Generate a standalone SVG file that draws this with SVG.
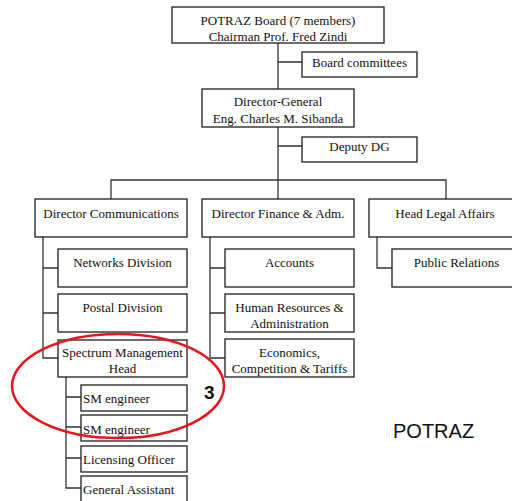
<svg xmlns="http://www.w3.org/2000/svg" width="512" height="501" viewBox="0 0 512 501">
<style>
.box{fill:#fff;stroke:#1e1e1e;stroke-width:1.3}
.t{font-family:"Liberation Serif","Times New Roman",serif;font-size:13px;fill:#111;text-anchor:middle}
.tl{text-anchor:start}
.conn{stroke:#333;stroke-width:1.3;fill:none}
</style>
<rect x="0" y="0" width="512" height="501" fill="#fff"/>
<g id="connectors">
<path class="conn" d="M278 43V89M278 62H302M278 127V199M278 146H302M111 199V180H446V199"/>
<path class="conn" d="M43 237V358H58M43 268H58M43 313H58"/>
<path class="conn" d="M210 237V358H225M210 268H225M210 313H225"/>
<path class="conn" d="M377 237V268H392"/>
<path class="conn" d="M66 377V488H81M66 397H81M66 427H81M66 458H81"/>
</g>
<g id="board"><rect class="box" x="172" y="7" width="212" height="36"/><text class="t" x="278" y="25">POTRAZ Board (7 members)</text><text class="t" x="278" y="41">Chairman Prof. Fred Zindi</text></g>
<g id="board-committees"><rect class="box" x="302" y="52" width="115" height="25"/><text class="t" x="359.5" y="67">Board committees</text></g>
<g id="director-general"><rect class="box" x="202" y="89" width="152" height="38"/><text class="t" x="278" y="106">Director-General</text><text class="t" x="278" y="123">Eng. Charles M. Sibanda</text></g>
<g id="deputy-dg"><rect class="box" x="302" y="137" width="115" height="25"/><text class="t" x="359.5" y="151">Deputy DG</text></g>
<g id="dir-comm"><rect class="box" x="35" y="199" width="152" height="38"/><text class="t" x="111" y="218">Director Communications</text></g>
<g id="dir-fin"><rect class="box" x="202" y="199" width="152" height="38"/><text class="t" x="278" y="218">Director Finance &amp; Adm.</text></g>
<g id="head-legal"><rect class="box" x="369" y="199" width="152" height="38"/><text class="t" x="445" y="218">Head Legal Affairs</text></g>
<g id="networks"><rect class="box" x="58" y="249" width="129" height="38"/><text class="t" x="122.5" y="267">Networks Division</text></g>
<g id="postal"><rect class="box" x="58" y="294" width="129" height="38"/><text class="t" x="122.5" y="312">Postal Division</text></g>
<g id="spectrum"><rect class="box" x="58" y="340" width="129" height="37"/><text class="t" x="122.5" y="357">Spectrum Management</text><text class="t" x="122.5" y="373">Head</text></g>
<g id="accounts"><rect class="box" x="225" y="249" width="129" height="38"/><text class="t" x="289.5" y="267">Accounts</text></g>
<g id="hr"><rect class="box" x="225" y="294" width="129" height="38"/><text class="t" x="289.5" y="312">Human Resources &amp;</text><text class="t" x="289.5" y="328">Administration</text></g>
<g id="economics"><rect class="box" x="225" y="339" width="129" height="38"/><text class="t" x="289.5" y="357">Economics,</text><text class="t" x="289.5" y="373">Competition &amp; Tariffs</text></g>
<g id="public-relations"><rect class="box" x="392" y="249" width="129" height="38"/><text class="t" x="456.5" y="267">Public Relations</text></g>
<g id="sm-engineer-1"><rect class="box" x="81" y="385" width="106" height="26"/><text class="t tl" x="83" y="403">SM engineer</text></g>
<g id="sm-engineer-2"><rect class="box" x="81" y="415" width="106" height="26"/><text class="t tl" x="83" y="434">SM engineer</text></g>
<g id="licensing"><rect class="box" x="81" y="446" width="106" height="26"/><text class="t tl" x="83" y="464">Licensing Officer</text></g>
<g id="general-assistant"><rect class="box" x="81" y="476" width="106" height="27"/><text class="t tl" x="83" y="494">General Assistant</text></g>
<g id="highlight">
<ellipse cx="118" cy="386" rx="106" ry="52" fill="none" stroke="#e8141c" stroke-width="2.5"/>
<text x="204" y="399" font-family="Liberation Sans, Arial, sans-serif" font-size="19" font-weight="bold" fill="#111">3</text>
</g>
<text x="393" y="438" font-family="Liberation Sans, Arial, sans-serif" font-size="20" fill="#111">POTRAZ</text>
</svg>
